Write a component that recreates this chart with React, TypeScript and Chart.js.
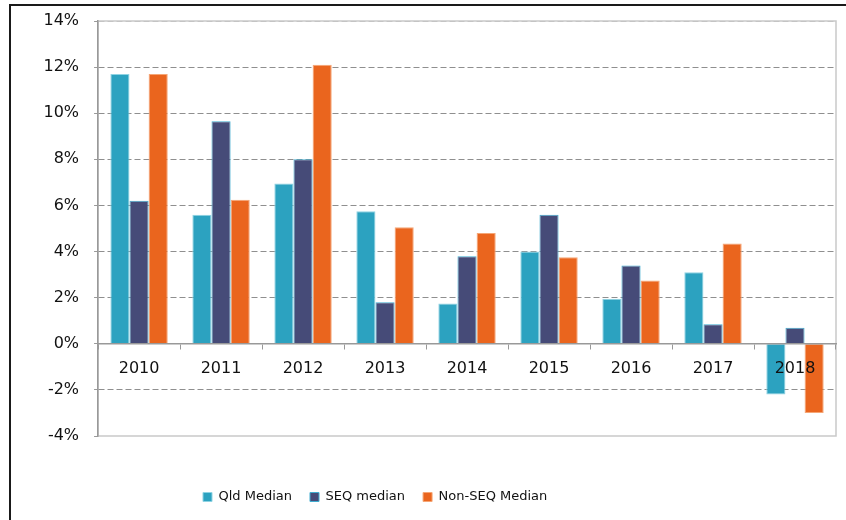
import { useEffect, useRef } from "react";
import { Chart, registerables } from "chart.js";

Chart.register(...registerables);

const categories = ["2010", "2011", "2012", "2013", "2014", "2015", "2016", "2017", "2018"];
const qldMedian = [11.7, 5.6, 6.95, 5.75, 1.75, 4.0, 1.95, 3.1, -2.2];
const seqMedian = [6.2, 9.65, 8.0, 1.8, 3.8, 5.6, 3.4, 0.85, 0.7];
const nonSeqMedian = [11.7, 6.25, 12.1, 5.05, 4.8, 3.75, 2.75, 4.35, -3.0];
const seriesNames = ["Qld Median", "SEQ median", "Non-SEQ Median"];
const yMin = -4;
const yMax = 14;
const yStep = 2;

const FONT = "'DejaVu Sans', Verdana, sans-serif";

const areaFrame = {
  id: "areaFrame",
  beforeDraw(chart: any) {
    const { ctx, chartArea: a } = chart;
    ctx.save();
    ctx.strokeStyle = "#c9c9c9";
    ctx.lineWidth = 1.5;
    ctx.strokeRect(a.left, a.top, a.right - a.left, a.bottom - a.top);
    ctx.restore();
  },
};

const legendPlacer = {
  id: "legendPlacer",
  afterLayout(chart: any) {
    const l = chart.legend;
    if (!l) return;
    const h = l.bottom - l.top;
    l.left = 203 - 18;
    l.top = 472.5;
    l.bottom = 472.5 + h;
  },
};

export default function App() {
  const ref = useRef<HTMLCanvasElement | null>(null);

  useEffect(() => {
    if (!ref.current) return;
    const chart = new Chart(ref.current, {
      type: "bar",
      data: {
        labels: categories,
        datasets: [
          {
            label: seriesNames[0],
            data: qldMedian,
            backgroundColor: "#2ca2c0",
            borderColor: "#8fd3e3",
            borderWidth: 1,
          },
          {
            label: seriesNames[1],
            data: seqMedian,
            backgroundColor: "#464b78",
            borderColor: "#40acd0",
            borderWidth: 1,
          },
          {
            label: seriesNames[2],
            data: nonSeqMedian,
            backgroundColor: "#ea651e",
            borderColor: "#f5a676",
            borderWidth: 1,
          },
        ],
      },
      options: {
        animation: false,
        responsive: true,
        maintainAspectRatio: false,
        layout: { padding: { left: 28.5, right: 10, top: 21, bottom: 43 } },
        datasets: {
          bar: { categoryPercentage: 0.7, barPercentage: 1.0 },
        },
        plugins: {
          tooltip: { enabled: false },
          legend: {
            position: "bottom",
            align: "start",
            labels: {
              boxWidth: 9,
              boxHeight: 9,
              padding: 18,
              color: "#111",
              font: { family: FONT, size: 13 },
            },
          },
        },
        scales: {
          x: {
            position: { y: 0 } as any,
            offset: true,
            grid: {
              display: true,
              drawOnChartArea: false,
              drawTicks: true,
              tickLength: 5,
              tickColor: "#999",
              offset: true,
              z: 1,
            },
            border: { color: "#999", width: 1.5, z: 1 },
            ticks: {
              color: "#111",
              font: { family: FONT, size: 16 },
              padding: 10,
              z: 1,
            },
          },
          y: {
            min: yMin,
            max: yMax,
            afterFit: (s: any) => {
              s.paddingTop = 10;
              s.paddingBottom = 10;
            },
            ticks: {
              stepSize: yStep,
              callback: (v: any) => v + "%",
              color: "#111",
              font: { family: FONT, size: 16 },
              padding: 15,
            },
            grid: {
              color: (c: any) =>
                c.tick && c.tick.value === yMin
                  ? "rgba(0,0,0,0)"
                  : c.tick && c.tick.value === yMax
                  ? "#c4c4c4"
                  : "#8f8f8f",
              tickColor: "#999",
              tickLength: 4,
              lineWidth: 1,
            },
            border: { color: "#999", width: 1.5, dash: [6, 3] },
          },
        },
      },
      plugins: [areaFrame, legendPlacer],
    });
    return () => chart.destroy();
  }, []);

  return (
    <div
      style={{
        position: "absolute",
        left: 0,
        top: 0,
        width: 846,
        height: 520,
        overflow: "hidden",
        background: "#fff",
      }}
    >
      <div
        style={{
          position: "absolute",
          left: 9,
          top: 4,
          width: 1200,
          height: 1200,
          border: "2px solid #1a1a1a",
        }}
      />
      <div style={{ position: "absolute", left: 0, top: 0, width: 846, height: 520 }}>
        <canvas ref={ref} />
      </div>
    </div>
  );
}
